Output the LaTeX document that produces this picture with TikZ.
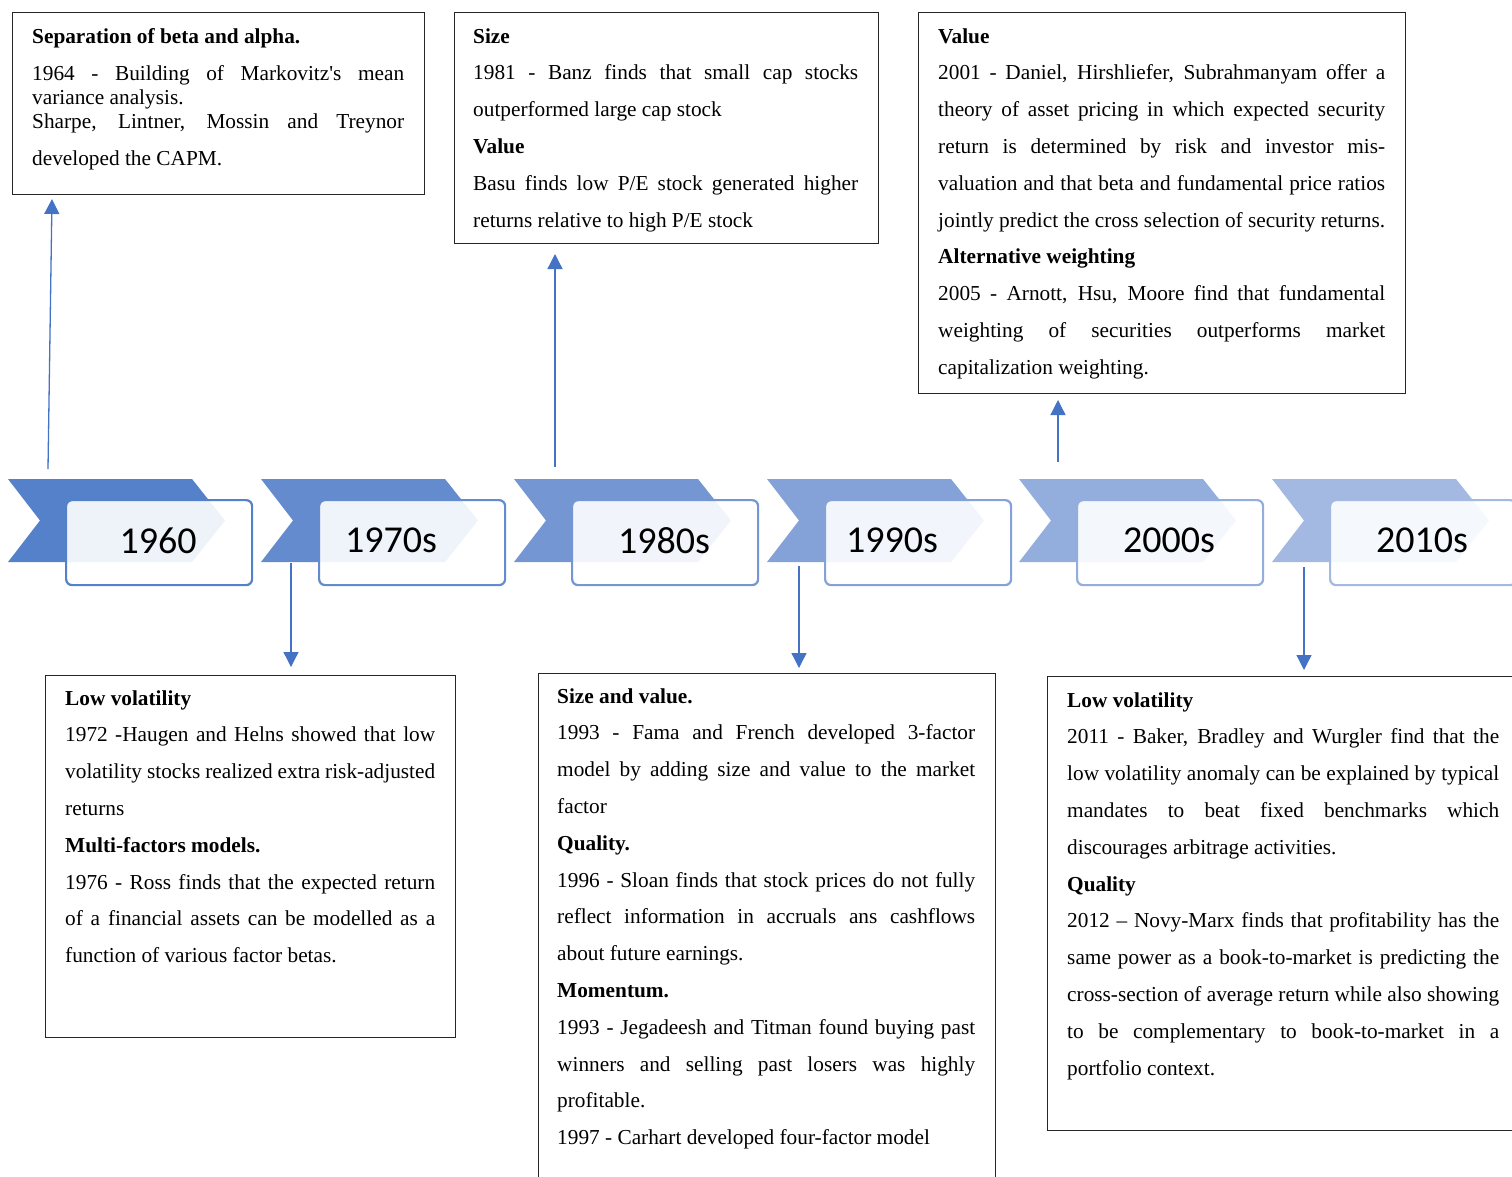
\documentclass[tikz,border=0pt]{standalone}
\usepackage{fontspec}
\setmainfont{Liberation Serif}[Ligatures=TeXOff]
\newfontfamily\yearfont{Carlito}
\usetikzlibrary{arrows.meta}

\definecolor{era1}{HTML}{5580CA}
\definecolor{era2}{HTML}{658BCF}
\definecolor{era3}{HTML}{7497D4}
\definecolor{era4}{HTML}{84A2D8}
\definecolor{era5}{HTML}{93AEDD}
\definecolor{era6}{HTML}{A3B9E2}
\definecolor{linkblue}{HTML}{4472C4}

\tolerance=10000
\hyphenpenalty=10000
\exhyphenpenalty=10000

\tikzset{
    >={Triangle[length=15pt,width=15pt]},
    year-box/.style={draw=#1, line width=2.2pt, rounded corners=6pt, fill=white, fill opacity=0.9,
        minimum width=186pt, minimum height=85pt, anchor=north west, inner sep=0pt},
    year-label/.style={font=\yearfont\fontsize{38}{40}\selectfont, inner sep=0pt},
    note/.style={draw=black!85, line width=1.2pt, anchor=north west, inner sep=0pt},
    note-text/.style={text width=#1, align=justify, anchor=base west, inner sep=0pt,
        font=\fontsize{21.3}{36.8}\selectfont},
    link/.style={->, draw=linkblue, line width=1.3pt},
}

\begin{document}
\begin{tikzpicture}[x=1pt, y=-1pt]
    \useasboundingbox (0,0) rectangle (1512,1176);
    \clip (0,0) rectangle (1512,1176);

    % timeline
    \fill[era1] (8,479) -- ++(184,0) -- ++(33,41.5) -- ++(-33,41.5) -- ++(-184,0) -- ++(32,-41.5) -- cycle;
    \node[year-box=era1] (box-1960) at (65,499) {};
    \node[year-label] (year-1960) at ([xshift=-1pt,yshift=2pt]box-1960.center) {1960};

    \fill[era2] (261,479) -- ++(184,0) -- ++(33,41.5) -- ++(-33,41.5) -- ++(-184,0) -- ++(32,-41.5) -- cycle;
    \node[year-box=era2] (box-1970) at (318,499) {};
    \node[year-label] (year-1970) at ([xshift=-21pt,yshift=2pt]box-1970.center) {1970s};

    \fill[era3] (514,479) -- ++(184,0) -- ++(33,41.5) -- ++(-33,41.5) -- ++(-184,0) -- ++(32,-41.5) -- cycle;
    \node[year-box=era3] (box-1980) at (571,499) {};
    \node[year-label] (year-1980) at ([xshift=-1pt,yshift=2pt]box-1980.center) {1980s};

    \fill[era4] (767,479) -- ++(184,0) -- ++(33,41.5) -- ++(-33,41.5) -- ++(-184,0) -- ++(32,-41.5) -- cycle;
    \node[year-box=era4] (box-1990) at (824,499) {};
    \node[year-label] (year-1990) at ([xshift=-26pt,yshift=2pt]box-1990.center) {1990s};

    \fill[era5] (1019,479) -- ++(184,0) -- ++(33,41.5) -- ++(-33,41.5) -- ++(-184,0) -- ++(32,-41.5) -- cycle;
    \node[year-box=era5] (box-2000) at (1076,499) {};
    \node[year-label] (year-2000) at ([xshift=-1pt,yshift=2pt]box-2000.center) {2000s};

    \fill[era6] (1272,479) -- ++(184,0) -- ++(33,41.5) -- ++(-33,41.5) -- ++(-184,0) -- ++(32,-41.5) -- cycle;
    \node[year-box=era6] (box-2010) at (1329,499) {};
    \node[year-label] (year-2010) at ([xshift=-1pt,yshift=2pt]box-2010.center) {2010s};

    % notes above
    \node[note, minimum width=412pt, minimum height=182pt] (note-1960) at (12,12) {};
    \node[note-text=372pt] (text-1960) at (32,43) {%
        \textbf{Separation of beta and alpha.}\par
        \vspace{12.5pt}{\baselineskip=24.5pt 1964 - Building of Markovitz's mean\linebreak
        variance analysis.\par}
        \vspace{-12.5pt}Sharpe, Lintner, Mossin and Treynor\linebreak
        developed the CAPM.};

    \node[note, minimum width=424pt, minimum height=231pt] (note-1980) at (454,12) {};
    \node[note-text=385pt] (text-1980) at (473,43) {%
        \textbf{Size}\par
        1981 - Banz finds that small cap stocks\linebreak
        outperformed large cap stock\par
        \textbf{Value}\par
        Basu finds low P/E stock generated higher\linebreak
        returns relative to high P/E stock};

    \node[note, minimum width=487pt, minimum height=381pt] (note-2000) at (918,12) {};
    \node[note-text=447pt] (text-2000) at (938,43) {%
        \textbf{Value}\par
        2001 - Daniel, Hirshliefer, Subrahmanyam offer a\linebreak
        theory of asset pricing in which expected security\linebreak
        return is determined by risk and investor mis-\linebreak
        valuation and that beta and fundamental price ratios\linebreak
        jointly predict the cross selection of security returns.\par
        \textbf{Alternative weighting}\par
        2005 - Arnott, Hsu, Moore find that fundamental\linebreak
        weighting of securities outperforms market\linebreak
        capitalization weighting.};

    % notes below
    \node[note, minimum width=410pt, minimum height=362pt] (note-1970) at (45,675) {};
    \node[note-text=370pt] (text-1970) at (65,705) {%
        \textbf{Low volatility}\par
        1972 -Haugen and Helns showed that low\linebreak
        volatility stocks realized extra risk-adjusted\linebreak
        returns\par
        \textbf{Multi-factors models.}\par
        1976 - Ross finds that the expected return\linebreak
        of a financial assets can be modelled as a\linebreak
        function of various factor betas.};

    \node[note, minimum width=457pt, minimum height=530pt] (note-1990) at (538,673) {};
    \node[note-text=418pt] (text-1990) at (557,703) {%
        \textbf{Size and value.}\par
        1993 - Fama and French developed 3-factor\linebreak
        model by adding size and value to the market\linebreak
        factor\par
        \textbf{Quality.}\par
        1996 - Sloan finds that stock prices do not fully\linebreak
        reflect information in accruals ans cashflows\linebreak
        about future earnings.\par
        \textbf{Momentum.}\par
        1993 - Jegadeesh and Titman found buying past\linebreak
        winners and selling past losers was highly\linebreak
        profitable.\par
        1997 - Carhart developed four-factor model};

    \node[note, minimum width=490pt, minimum height=454pt] (note-2010) at (1047,676) {};
    \node[note-text=432pt] (text-2010) at (1067,707) {%
        \textbf{Low volatility}\par
        2011 - Baker, Bradley and Wurgler find that the\linebreak
        low volatility anomaly can be explained by typical\linebreak
        mandates to beat fixed benchmarks which\linebreak
        discourages arbitrage activities.\par
        \textbf{Quality}\par
        2012 – Novy-Marx finds that profitability has the\linebreak
        same power as a book-to-market is predicting the\linebreak
        cross-section of average return while also showing\linebreak
        to be complementary to book-to-market in a\linebreak
        portfolio context.};

    % connectors
    \coordinate (up-1960-s) at (48,469);   \coordinate (up-1960-e) at (52,199);
    \coordinate (up-1980-s) at (555,467);  \coordinate (up-1980-e) at (555,254);
    \coordinate (up-2000-s) at (1058,462); \coordinate (up-2000-e) at (1058,400);
    \coordinate (down-1970-s) at (291,563);  \coordinate (down-1970-e) at (291,667);
    \coordinate (down-1990-s) at (799,566);  \coordinate (down-1990-e) at (799,668);
    \coordinate (down-2010-s) at (1304,567); \coordinate (down-2010-e) at (1304,670);

    \draw[link] (up-1960-s) -- (up-1960-e);
    \draw[link] (up-1980-s) -- (up-1980-e);
    \draw[link] (up-2000-s) -- (up-2000-e);
    \draw[link] (down-1970-s) -- (down-1970-e);
    \draw[link] (down-1990-s) -- (down-1990-e);
    \draw[link] (down-2010-s) -- (down-2010-e);
\end{tikzpicture}
\end{document}
